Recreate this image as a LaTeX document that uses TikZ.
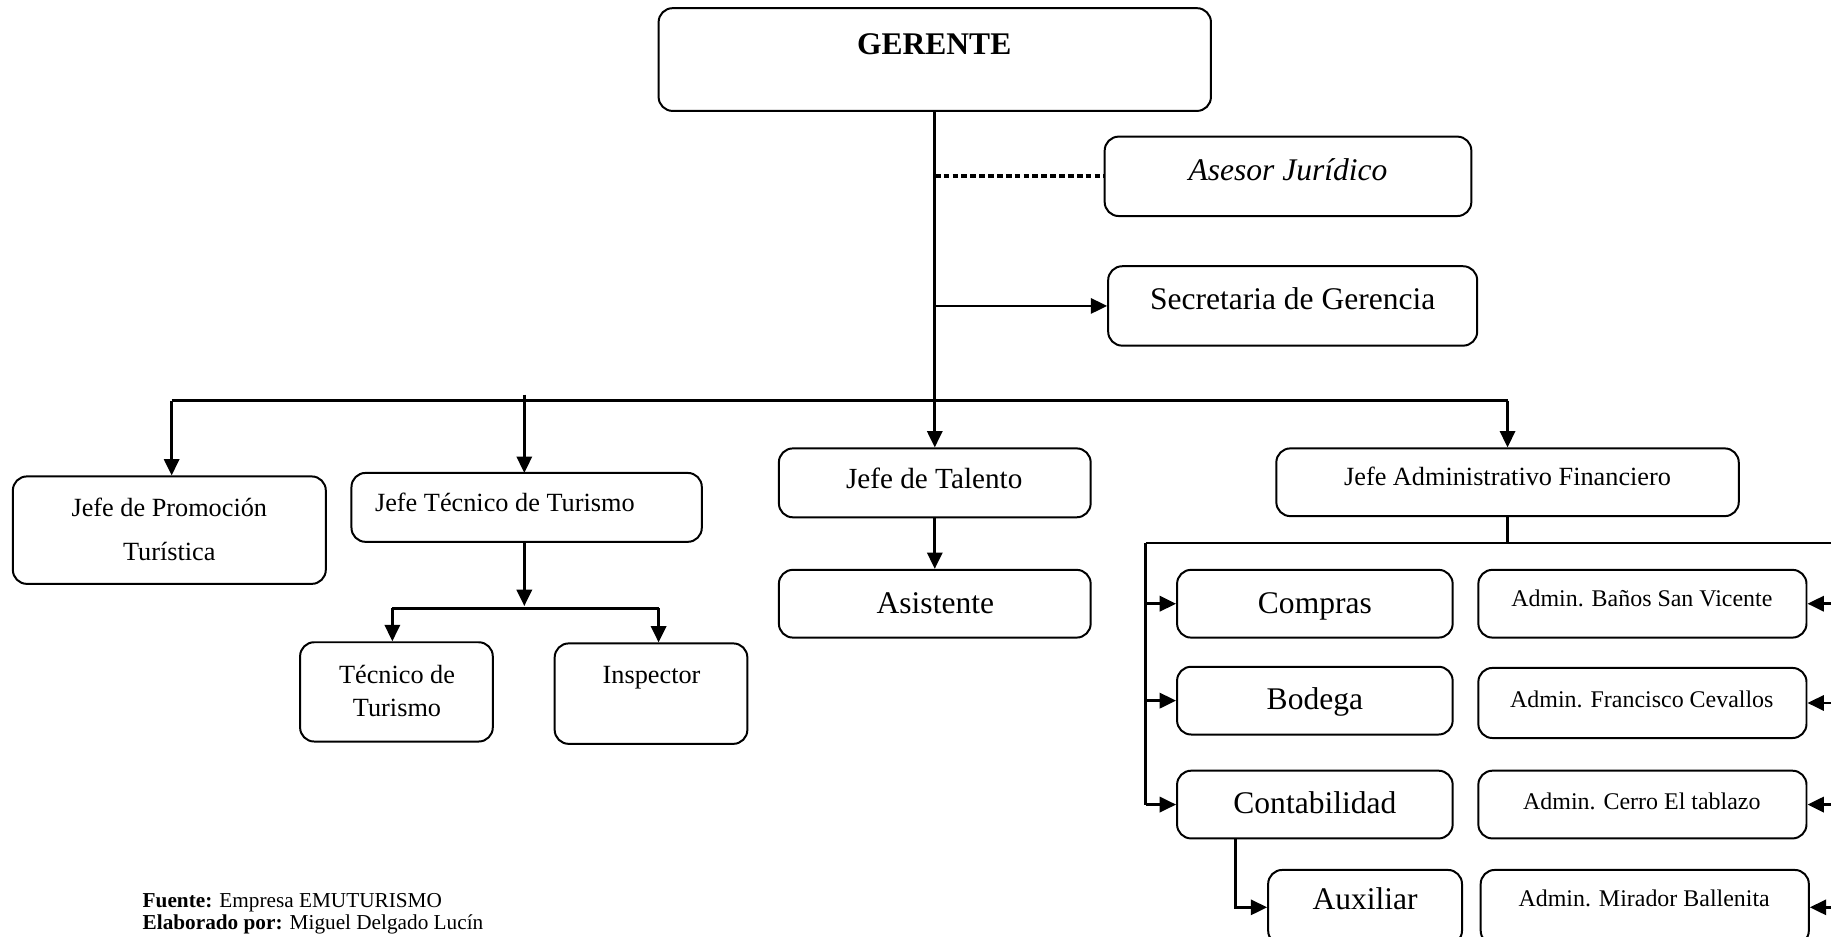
\documentclass[tikz,border=0pt]{standalone}
\usepackage{fontspec}
\setmainfont{Liberation Serif}
\usetikzlibrary{arrows.meta}
\begin{document}
\begin{tikzpicture}[x=1pt,y=-1pt,
  box/.style={draw, line width=1.7pt, rounded corners=12pt, inner sep=0pt},
  conn/.style={line width=2.3pt},
  arr/.style={conn, -{Triangle[length=14pt,width=13pt]}},
  txt/.style={anchor=base, inner sep=0pt},
  fa/.style={font=\fontsize{27}{32}\selectfont},
  fb/.style={font=\fontsize{25}{30}\selectfont},
  fc/.style={font=\fontsize{22.5}{27}\selectfont},
  fd/.style={font=\fontsize{20.5}{25}\selectfont},
  fe/.style={font=\fontsize{18.2}{19}\selectfont},
]
\clip (0,0) rectangle (1568,802);

% boxes
\node[box, minimum width=473pt, minimum height=88pt] (ger) at (800.5,51) {};
\node[box, minimum width=314pt, minimum height=68pt] (ase) at (1103,151) {};
\node[box, minimum width=316pt, minimum height=68pt] (sec) at (1107,262) {};
\node[box, minimum width=268pt, minimum height=92pt] (pro) at (145,454) {};
\node[box, minimum width=300pt, minimum height=59pt] (jt) at (451,434.5) {};
\node[box, minimum width=165pt, minimum height=85pt] (tt) at (339.5,592.5) {};
\node[box, minimum width=165pt, minimum height=86pt] (ins) at (557.5,594) {};
\node[box, minimum width=267pt, minimum height=59pt] (tal) at (800.5,413.5) {};
\node[box, minimum width=267pt, minimum height=58pt] (asi) at (800.5,517) {};
\node[box, minimum width=396pt, minimum height=58pt] (jaf) at (1291,413) {};
\node[box, minimum width=236pt, minimum height=58pt] (com) at (1126,517) {};
\node[box, minimum width=236pt, minimum height=58pt] (bod) at (1126,600) {};
\node[box, minimum width=236pt, minimum height=58pt] (con) at (1126,689) {};
\node[box, minimum width=166pt, minimum height=64pt] (aux) at (1169,777) {};
\node[box, minimum width=281pt, minimum height=58pt] (ab) at (1406.5,517) {};
\node[box, minimum width=281pt, minimum height=60pt] (af) at (1406.5,602) {};
\node[box, minimum width=281pt, minimum height=58pt] (ac) at (1406.5,689) {};
\node[box, minimum width=281pt, minimum height=64pt] (am) at (1408.5,777) {};

% texts
\node[txt, fa] (tger) at (800,47) {\textbf{GERENTE}};
\node[txt, fa] (tase) at (1103,155) {\textit{Asesor Jurídico}};
\node[txt, fa] (tsec) at (1107,265) {Secretaria de Gerencia};
\node[txt, fc] (tpro1) at (145,442) {Jefe de Promoción};
\node[txt, fc] (tpro2) at (145,480) {Turística};
\node[txt, fc, anchor=base west] (tjt) at (321,438) {Jefe Técnico de Turismo};
\node[txt, fc] (ttt1) at (340,585) {Técnico de};
\node[txt, fc] (ttt2) at (340,614) {Turismo};
\node[txt, fc] (tins) at (558,585) {Inspector};
\node[txt, fb] (ttal) at (800,418) {Jefe de Talento};
\node[txt, fa] (tasi) at (801,525) {Asistente};
\node[txt, fc] (tjaf) at (1291,416) {Jefe Administrativo Financiero};
\node[txt, fa] (tcom) at (1126,525) {Compras};
\node[txt, fa] (tbod) at (1126,608) {Bodega};
\node[txt, fa] (tcon) at (1126,697) {Contabilidad};
\node[txt, fa] (taux) at (1169,779) {Auxiliar};
\node[txt, fd] (tab) at (1406,519) {Admin. Baños San Vicente};
\node[txt, fd] (taf) at (1406,606) {Admin. Francisco Cevallos};
\node[txt, fd] (tac) at (1406,693) {Admin. Cerro El tablazo};
\node[txt, fd] (tam) at (1408,776) {Admin. Mirador Ballenita};

% footer
\node[txt, fe, anchor=base west] (fuente) at (122,777) {\textbf{Fuente:} Empresa EMUTURISMO};
\node[txt, fe, anchor=base west] (elab) at (122,796) {\textbf{Elaborado por:} Miguel Delgado Lucín};

% connectors from the manager
\draw[arr] (ger.south) -- (tal.north);
\draw[conn, line width=3.2pt, dash pattern=on 5pt off 2.6pt] (ger.south |- ase.west) -- (ase.west);
\draw[arr] (ger.south |- sec.west) -- (sec.west);

% main bus
\coordinate (busL) at (147,343);
\coordinate (busR) at (1291,343);
\draw[conn] (busL) -- (busR);
\draw[arr] (busL) -- (busL |- pro.north);
\draw[arr] (449,338) -- (449,405);
\draw[arr] (busR) -- (jaf.north);

% technical branch
\coordinate (tl) at (336,521);
\coordinate (tr) at (564,521);
\draw[arr] (449,464) -- (449,519);
\draw[conn] (tl) -- (tr);
\draw[arr] (tl) -- (tl |- tt.north);
\draw[arr] (tr) -- (tr |- ins.north);

% talent branch
\draw[arr] (tal.south) -- (asi.north);

% administrative branch
\coordinate (adm) at (1291,465);
\coordinate (admL) at (981,465);
\coordinate (admR) at (1575,465);
\draw[conn] (jaf.south) -- (adm);
\draw[conn] (admL) -- (admR);
\draw[conn] (admL) -- (admL |- con.west);
\draw[arr] (admL |- com.west) -- (com.west);
\draw[arr] (admL |- bod.west) -- (bod.west);
\draw[arr] (admL |- con.west) -- (con.west);
\coordinate (cdn) at (1058,718);
\draw[arr] (cdn) |- (aux.west);

\coordinate (edge) at (1575,465);
\draw[arr] (edge |- ab.east) -- (ab.east);
\draw[arr] (edge |- af.east) -- (af.east);
\draw[arr] (edge |- ac.east) -- (ac.east);
\draw[arr] (edge |- am.east) -- (am.east);
\end{tikzpicture}
\end{document}
